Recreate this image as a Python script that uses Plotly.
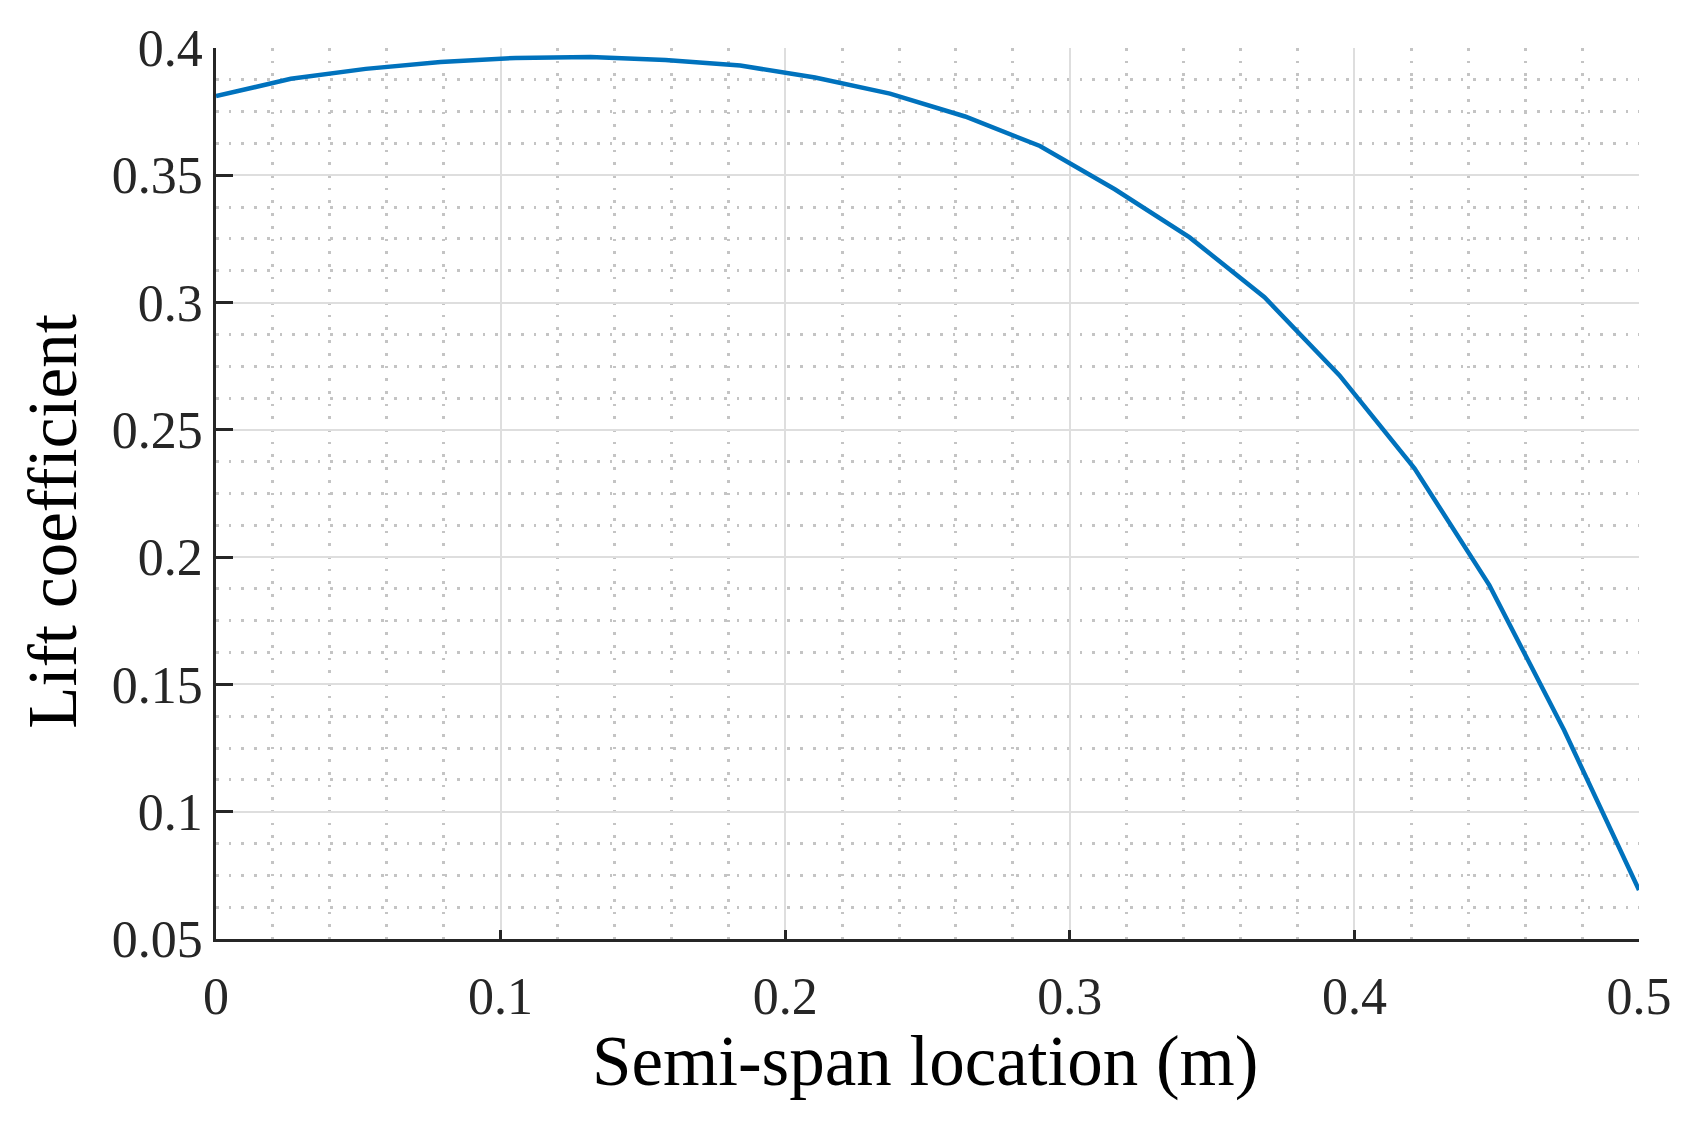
import plotly.graph_objects as go

# Semi-span location (m)
span_location = [0.0000, 0.0263, 0.0526, 0.0789, 0.1053, 0.1316, 0.1579, 0.1842,
                 0.2105, 0.2368, 0.2632, 0.2895, 0.3158, 0.3421, 0.3684, 0.3947,
                 0.4211, 0.4474, 0.4737, 0.5000]
# Lift coefficient
lift_coefficient = [0.3811, 0.3879, 0.3918, 0.3945, 0.3961, 0.3965, 0.3953, 0.3931,
                    0.3884, 0.3821, 0.3731, 0.3615, 0.3445, 0.3256, 0.3021, 0.2715,
                    0.2349, 0.1890, 0.1320, 0.0692]

x_title = "Semi-span location (m)"
y_title = "Lift coefficient"

FONT = "Liberation Serif"
BODY = 8  # default page margin around the figure
W, H = 1692 - 2 * BODY, 1132 - 2 * BODY
L, T = 216 - BODY, 45 - BODY
pw, ph = 1425, 894
R = W - L - pw
B = H - T - ph

fig = go.Figure()
fig.add_trace(go.Scatter(
    x=span_location, y=lift_coefficient, mode="lines",
    line=dict(color="#0072BD", width=4.5), showlegend=False,
))

axis_common = dict(
    showline=True, linecolor="#262626", linewidth=2.5, mirror=False,
    ticks="inside", tickcolor="#262626", tickwidth=2.5,
    showgrid=True, gridcolor="#dedede", gridwidth=2.2,
    zeroline=False,
    tickfont=dict(family=FONT, size=52, color="#262626"),
)

fig.update_xaxes(
    range=[0, 0.5], tick0=0, dtick=0.1, ticklen=9, ticklabelstandoff=10,
    minor=dict(dtick=0.02, showgrid=True, gridcolor="#c4c4c4", gridwidth=2.5,
               griddash="2.7px,10px", ticks=""),
    **axis_common,
)
fig.update_yaxes(
    range=[0.05, 0.4], tick0=0.05, dtick=0.05, ticklen=17,
    minor=dict(dtick=0.0125, showgrid=True, gridcolor="#c4c4c4", gridwidth=2.5,
               griddash="2.7px,10px", ticks=""),
    **axis_common,
)

# positions measured in full-page pixels of the reference
plot_left, plot_bottom = 216, 939
fig.add_annotation(
    text=x_title, xref="paper", yref="paper",
    x=(926 - plot_left) / pw, y=(plot_bottom - 1062) / ph,
    xanchor="center", yanchor="middle", showarrow=False,
    font=dict(family=FONT, size=71, color="#000000"),
)
fig.add_annotation(
    text=y_title, xref="paper", yref="paper",
    x=(53 - plot_left) / pw, y=(plot_bottom - 520) / ph, textangle=-90,
    xanchor="center", yanchor="middle", showarrow=False,
    font=dict(family=FONT, size=69, color="#000000"),
)

fig.update_layout(
    width=W, height=H,
    margin=dict(l=L, r=R, t=T, b=B, pad=0),
    paper_bgcolor="white", plot_bgcolor="white",
    font=dict(family=FONT),
)

fig.write_html("out.html")
